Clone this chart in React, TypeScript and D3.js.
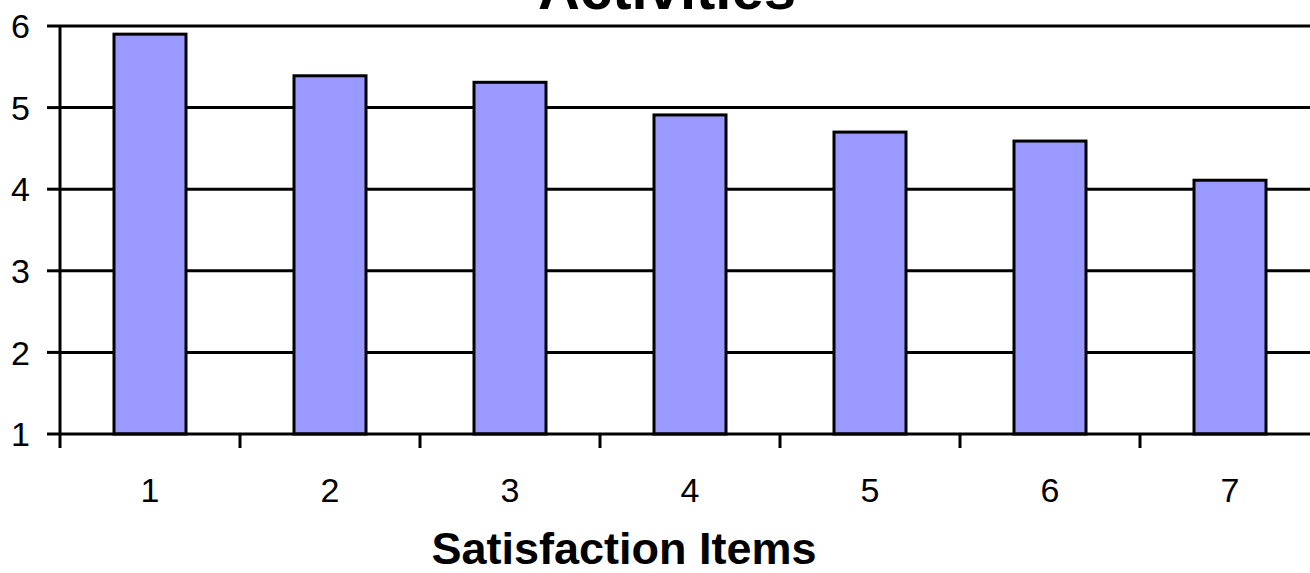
import React from "react";
import * as d3 from "d3";

const categories = ["1", "2", "3", "4", "5", "6", "7"];
const values = [5.9, 5.39, 5.31, 4.91, 4.7, 4.59, 4.11];
const yTicks = [1, 2, 3, 4, 5, 6];
const title = "Activities";
const xTitle = "Satisfaction Items";

const W = 1310;
const H = 573;
const FONT = "Arial, 'Liberation Sans', Helvetica, sans-serif";

export default function App() {
  const left = 60;
  const right = 1320;
  const top = 26;
  const bottom = 434;

  const x = d3
    .scaleBand<string>()
    .domain(categories)
    .range([left, right])
    .paddingInner(0.6)
    .paddingOuter(0.3);
  const step = (right - left) / categories.length;
  const y = d3.scaleLinear().domain([1, 6]).range([bottom, top]);

  const boundaries = d3.range(categories.length + 1).map((i) => left + i * step);

  return (
    <svg
      width={W}
      height={H}
      style={{ position: "absolute", left: 0, top: 0, background: "#fff" }}
      fontFamily={FONT}
    >
      <rect x={0} y={0} width={W} height={H} fill="#fff" />
      {/* title, partly above the top edge */}
      <text x={667} y={9} textAnchor="middle" fontSize={58} fontWeight="bold" fill="#000">
        {title}
      </text>

      {/* horizontal gridlines */}
      {yTicks.slice(1).map((t) => (
        <line key={t} x1={left} x2={right} y1={y(t)} y2={y(t)} stroke="#000" strokeWidth={3} />
      ))}

      {/* bars */}
      {values.map((v, i) => (
        <rect
          key={i}
          x={x(categories[i])!}
          y={y(v)}
          width={x.bandwidth()}
          height={y(1) - y(v)}
          fill="#9999FF"
          stroke="#000"
          strokeWidth={3}
        />
      ))}

      {/* y axis */}
      <line x1={left} x2={left} y1={top} y2={bottom} stroke="#000" strokeWidth={3} />
      {yTicks.map((t) => (
        <g key={t}>
          <line x1={left - 13} x2={left} y1={y(t)} y2={y(t)} stroke="#000" strokeWidth={3} />
          <text x={30} y={y(t)} dy="0.36em" textAnchor="end" fontSize={34} fill="#000">
            {t}
          </text>
        </g>
      ))}

      {/* x axis */}
      <line x1={left} x2={right} y1={bottom} y2={bottom} stroke="#000" strokeWidth={3} />
      {boundaries.map((b, i) => (
        <line key={i} x1={b} x2={b} y1={bottom} y2={bottom + 14} stroke="#000" strokeWidth={3} />
      ))}
      {categories.map((c) => (
        <text
          key={c}
          x={x(c)! + x.bandwidth() / 2}
          y={502}
          textAnchor="middle"
          fontSize={34}
          fill="#000"
        >
          {c}
        </text>
      ))}

      <text x={624} y={564} textAnchor="middle" fontSize={45} fontWeight="bold" fill="#000">
        {xTitle}
      </text>
    </svg>
  );
}
